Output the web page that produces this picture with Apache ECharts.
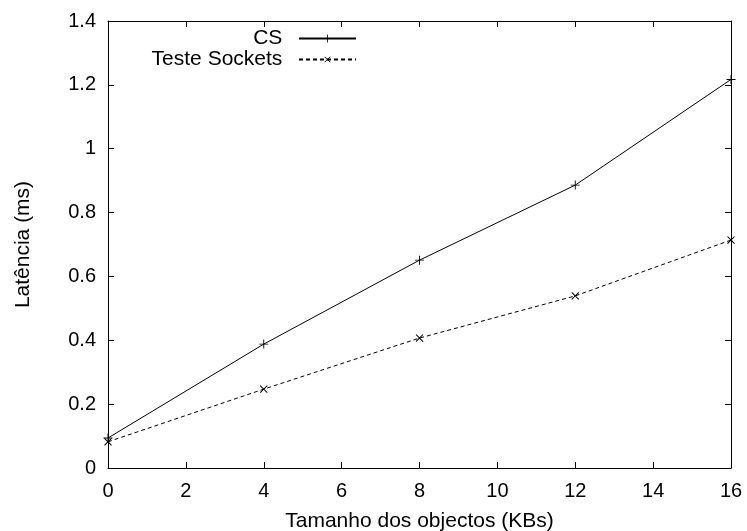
<!DOCTYPE html>
<html>
<head>
<meta charset="utf-8">
<script src="https://cdn.jsdelivr.net/npm/echarts@6/dist/echarts.min.js"></script>
<style>html,body{margin:0;padding:0;background:#fff;}#c{width:747px;height:531px;}</style>
</head>
<body>
<div id="c"></div>
<script>
const sizes = [0, 4, 8, 12, 16];
const csValues = [0.094, 0.388, 0.651, 0.886, 1.217];
const socketValues = [0.082, 0.247, 0.407, 0.539, 0.714];
const seriesNames = ['CS', 'Teste Sockets'];
const xTitle = 'Tamanho dos objectos (KBs)';
const yTitle = 'Latência (ms)';

const FONT = 'Liberation Sans';
const FS = 20;
const FS2 = 21;
const plusPath = 'path://M4.5,0H5.5V4.5H10V5.5H5.5V10H4.5V5.5H0V4.5H4.5Z';

const chart = echarts.init(document.getElementById('c'), null, {renderer: 'canvas'});
const axisLine = {show: true, onZero: false, lineStyle: {color: '#000', width: 1}};
const tickIn = {show: true, inside: true, length: 6, lineStyle: {color: '#000', width: 1}};

chart.setOption({
  animation: false,
  backgroundColor: '#fff',
  textStyle: {fontFamily: FONT},
  grid: {left: 108, right: 16, top: 21, bottom: 63, containLabel: false, outerBoundsMode: 'none'},
  legend: {
    orient: 'vertical',
    align: 'right',
    right: 385,
    top: 23,
    itemWidth: 57,
    itemHeight: 10,
    itemGap: 0,
    formatter: n => n + '  ',
    textStyle: {fontFamily: FONT, fontSize: FS2, color: '#000'},
    data: seriesNames
  },
  xAxis: [{
    type: 'value', min: 0, max: 16, interval: 2,
    position: 'bottom',
    name: xTitle, nameLocation: 'middle', nameGap: 43,
    nameTextStyle: {fontFamily: FONT, fontSize: FS2, color: '#000'},
    axisLine: axisLine, axisTick: tickIn,
    axisLabel: {fontFamily: FONT, fontSize: FS, color: '#000', margin: 13},
    splitLine: {show: false}
  }, {
    type: 'value', min: 0, max: 16, interval: 2,
    position: 'top',
    axisLine: axisLine, axisTick: tickIn,
    axisLabel: {show: false}, splitLine: {show: false}
  }],
  yAxis: [{
    type: 'value', min: 0, max: 1.4, interval: 0.2,
    position: 'left',
    name: yTitle, nameLocation: 'middle', nameGap: 74,
    nameTextStyle: {fontFamily: FONT, fontSize: FS2, color: '#000'},
    axisLine: axisLine, axisTick: tickIn,
    axisLabel: {fontFamily: FONT, fontSize: FS, color: '#000', margin: 12,
      formatter: v => String(Math.round(v * 10) / 10)},
    splitLine: {show: false}
  }, {
    type: 'value', min: 0, max: 1.4, interval: 0.2,
    position: 'right',
    axisLine: axisLine, axisTick: tickIn,
    axisLabel: {show: false}, splitLine: {show: false}
  }],
  series: [{
    name: seriesNames[0], type: 'line',
    data: sizes.map((x, i) => [x, csValues[i]]),
    symbol: plusPath, symbolSize: 9,
    itemStyle: {color: '#000'},
    lineStyle: {color: '#000', width: 1, type: 'solid'},
    clip: false
  }, {
    name: seriesNames[1], type: 'line',
    data: sizes.map((x, i) => [x, socketValues[i]]),
    symbol: plusPath, symbolSize: 10, symbolRotate: 45,
    itemStyle: {color: '#000'},
    lineStyle: {color: '#000', width: 1, type: [4, 3]},
    clip: false
  }]
});
</script>
</body>
</html>
